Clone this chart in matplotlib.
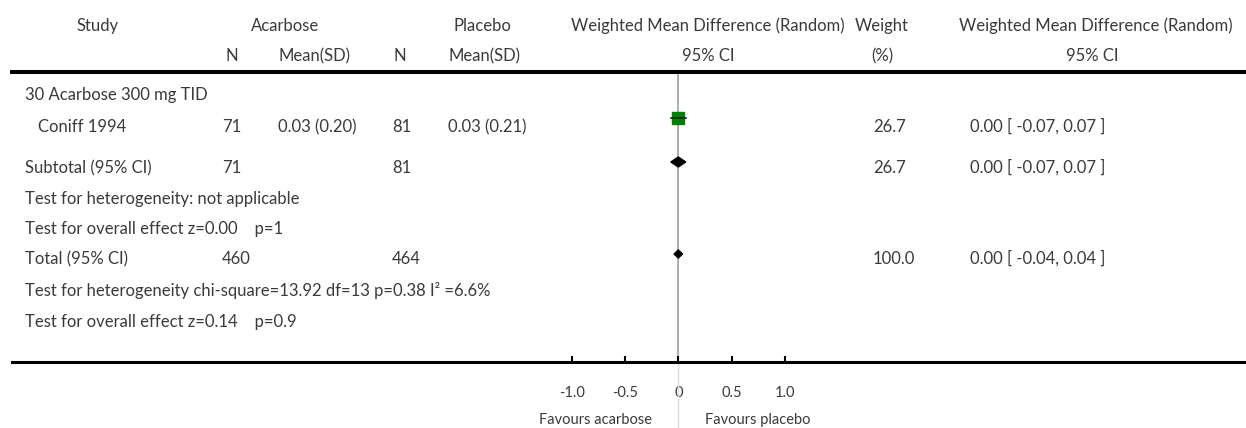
import matplotlib
matplotlib.use("Agg")
import matplotlib.pyplot as plt
from matplotlib.patches import Polygon

# ---- data ----
group_label = "30 Acarbose 300 mg TID"
study_names = ["Coniff 1994"]
acar_n = [71]
acar_mean = [0.03]
acar_sd = [0.20]
plac_n = [81]
plac_mean = [0.03]
plac_sd = [0.21]
study_wmd = [0.00]
study_lo = [-0.07]
study_hi = [0.07]
study_weight = [26.7]

subtotal_n = (71, 81)
subtotal_wmd, subtotal_lo, subtotal_hi, subtotal_weight = 0.00, -0.07, 0.07, 26.7
subtotal_het = "Test for heterogeneity: not applicable"
subtotal_eff = "Test for overall effect z=0.00    p=1"

total_n = (460, 464)
total_wmd, total_lo, total_hi, total_weight = 0.00, -0.04, 0.04, 100.0
total_het = "Test for heterogeneity chi-square=13.92 df=13 p=0.38 I\u00b2 =6.6%"
total_eff = "Test for overall effect z=0.14    p=0.9"

ticks = [-1.0, -0.5, 0, 0.5, 1.0]
tick_labels = ["-1.0", "-0.5", "0", "0.5", "1.0"]

# ---- layout (pixel space) ----
W, H = 1246, 428
X0 = 678.3          # pixel column of zero effect
PX_PER_UNIT = 106.7
TOP, BOTTOM = 72, 362
TXT = "#3a3a3a"
FS = 12

plt.rcParams["font.family"] = ["Lato", "DejaVu Sans"]

fig = plt.figure(figsize=(W / 100, H / 100), dpi=100)

# text layer in pixel coordinates
tx = fig.add_axes([0, 0, 1, 1])
tx.set_xlim(0, W)
tx.set_ylim(H, 0)
tx.axis("off")

# forest panel: x in effect units, y in pixel rows
fax = fig.add_axes([12 / W, (H - BOTTOM) / H, (W - 12) / W, (BOTTOM - TOP) / H])
fax.set_xlim((12 - X0) / PX_PER_UNIT, (W - X0) / PX_PER_UNIT)
fax.set_ylim(BOTTOM, TOP)
fax.patch.set_alpha(0)
for s in ("left", "right"):
    fax.spines[s].set_visible(False)
fax.spines["top"].set_linewidth(2.9)
fax.spines["bottom"].set_linewidth(2.2)
fax.set_yticks([])
fax.set_xticks(ticks)
fax.set_xticklabels(tick_labels)
fax.tick_params(axis="x", direction="in", length=4.5, width=1.5, pad=17,
                labelsize=10.5, labelcolor=TXT)


def put(x, y, s, ha="left", size=FS):
    tx.text(x, y, s, ha=ha, va="baseline", fontsize=size, color=TXT)


# column headers
put(98, 31, "Study", ha="center")
put(285, 31, "Acarbose", ha="center")
put(482, 31, "Placebo", ha="center")
put(708, 31, "Weighted Mean Difference (Random)", ha="center")
put(882, 31, "Weight", ha="center")
put(1096, 31, "Weighted Mean Difference (Random)", ha="center")
put(232, 61, "N", ha="center")
put(315, 61, "Mean(SD)", ha="center")
put(400, 61, "N", ha="center")
put(485, 61, "Mean(SD)", ha="center")
put(708, 61, "95% CI", ha="center")
put(882, 61, "(%)", ha="center")
put(1092, 61, "95% CI", ha="center")

C_N1, C_M1, C_N2, C_M2, C_W, C_CI = 222, 278, 392, 448, 873, 970

# group + study rows
put(25, 100, group_label)
row = 132
for i, name in enumerate(study_names):
    put(38, row, name)
    put(C_N1, row, f"{acar_n[i]}")
    put(C_M1, row, f"{acar_mean[i]:.2f} ({acar_sd[i]:.2f})")
    put(C_N2, row, f"{plac_n[i]}")
    put(C_M2, row, f"{plac_mean[i]:.2f} ({plac_sd[i]:.2f})")
    put(C_W, row, f"{study_weight[i]:.1f}")
    put(C_CI, row, f"{study_wmd[i]:.2f} [ {study_lo[i]:.2f}, {study_hi[i]:.2f} ]")
    ym = row - 14
    fax.plot([study_wmd[i]], [ym], marker="s", ms=8.8, color="#008000",
             mec="#008000", zorder=3)
    fax.plot([study_lo[i], study_hi[i]], [ym, ym], color="#222222", lw=1.2, zorder=4)
    row += 32


def diamond(mid, lo, hi, y, h):
    fax.add_patch(Polygon([(lo, y), (mid, y - h), (hi, y), (mid, y + h)],
                          closed=True, color="black", zorder=3))


# subtotal
row = 173
put(25, row, "Subtotal (95% CI)")
put(C_N1, row, f"{subtotal_n[0]}")
put(C_N2, row, f"{subtotal_n[1]}")
put(C_W, row, f"{subtotal_weight:.1f}")
put(C_CI, row, f"{subtotal_wmd:.2f} [ {subtotal_lo:.2f}, {subtotal_hi:.2f} ]")
diamond(subtotal_wmd, subtotal_lo, subtotal_hi, row - 11, 5)
put(25, 204, subtotal_het)
put(25, 234, subtotal_eff)

# overall total
row = 264
put(25, row, "Total (95% CI)")
put(C_N1, row, f"{total_n[0]}")
put(C_N2, row, f"{total_n[1]}")
put(C_W, row, f"{total_weight:.1f}")
put(C_CI, row, f"{total_wmd:.2f} [ {total_lo:.2f}, {total_hi:.2f} ]")
diamond(total_wmd, total_lo, total_hi, row - 10, 4)
put(25, 296, total_het)
put(25, 327, total_eff)

# line of no effect, plus faint divider between the "favours" captions
fax.axvline(0, color="#999999", lw=1.1, zorder=1)
fax.plot([0, 0], [BOTTOM, H], color="#dddddd", lw=1.0, clip_on=False)
tx.text(X0 - 26, 424, "Favours acarbose", ha="right", va="baseline",
        fontsize=10.5, color=TXT)
tx.text(X0 + 27, 424, "Favours placebo", ha="left", va="baseline",
        fontsize=10.5, color=TXT)

fig.savefig("out.png", dpi=100)
